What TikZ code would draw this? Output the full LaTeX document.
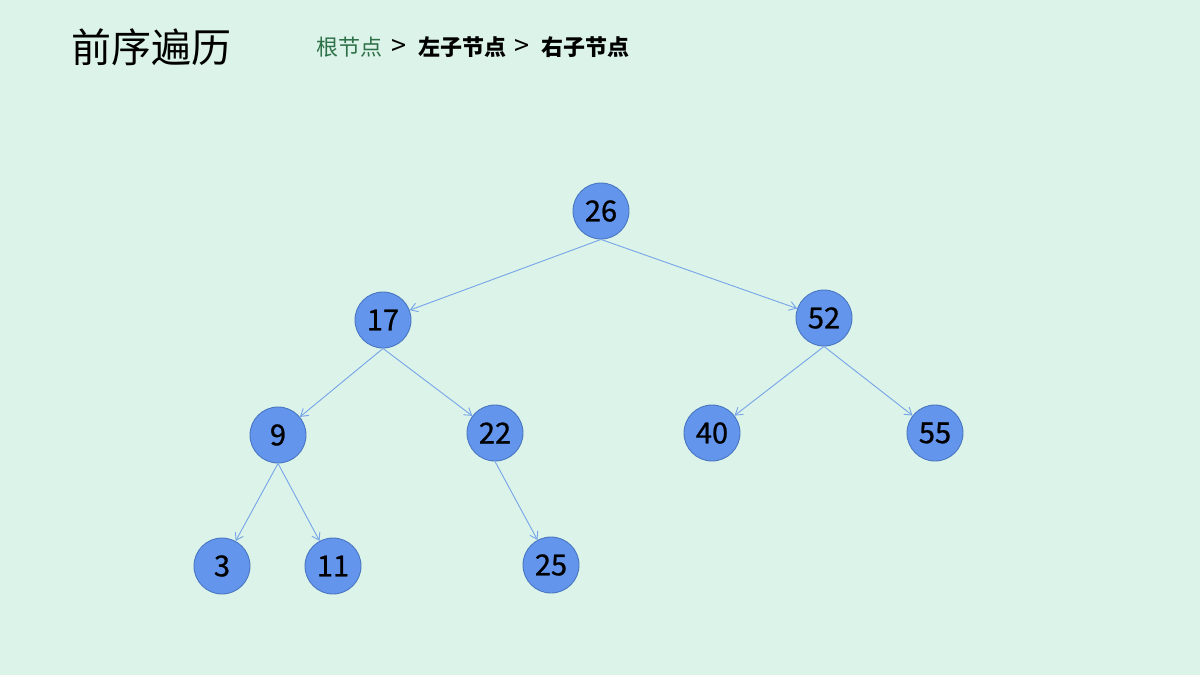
\documentclass[tikz,border=0pt]{standalone}
\usepackage{fontspec}
\setmainfont{Noto Sans CJK SC}
\newfontfamily\numfont[FakeBold=0.8]{Noto Sans CJK SC}
\usetikzlibrary{arrows.meta}
\definecolor{bg}{RGB}{220,243,233}
\definecolor{nodefill}{RGB}{100,149,237}
\definecolor{nodeedge}{RGB}{72,118,192}
\definecolor{edgecol}{RGB}{118,164,232}
\definecolor{rootgreen}{RGB}{46,112,72}
\tikzset{
  tnode/.style={circle,draw=nodeedge,fill=nodefill,line width=0.9pt,minimum size=56pt,inner sep=0pt,font=\numfont\fontsize{29}{29}\selectfont},
  tedge/.style={draw=edgecol,line width=0.9pt,-{Straight Barb[length=7pt,width=9pt]}},
  crumb/.style={anchor=west,inner sep=0pt,font=\fontsize{22}{22}\selectfont},
  crumbb/.style={crumb,font=\bfseries\fontsize{22}{22}\selectfont},
  sepmark/.style={anchor=center,inner sep=0pt,font=\fontsize{27}{27}\selectfont},
}
\begin{document}
\begin{tikzpicture}[x=1pt,y=-1pt]
\fill[bg] (0,0) rectangle (1200,675);
\useasboundingbox (0,0) rectangle (1200,675);
\node[anchor=west,inner sep=0pt,font=\fontsize{40}{40}\selectfont] (title) at (71,47) {前序遍历};
\node[crumb,text=rootgreen] (c1) at (316,47) {根节点};
\node[sepmark] (s1) at (399,47) {>};
\node[crumbb] (c2) at (418,47) {左子节点};
\node[sepmark] (s2) at (522,47) {>};
\node[crumbb] (c3) at (541,47) {右子节点};
\node[tnode] (n26) at (601,211) {26};
\node[tnode] (n17) at (383,320) {17};
\node[tnode] (n52) at (824,318) {52};
\node[tnode] (n9) at (278,435) {9};
\node[tnode] (n22) at (495,433) {22};
\node[tnode] (n40) at (712,433) {40};
\node[tnode] (n55) at (935,433) {55};
\node[tnode] (n3) at (222,566) {3};
\node[tnode] (n11) at (333,566) {11};
\node[tnode] (n25) at (551,565) {25};
\draw[tedge] (n26.south) -- (n17);
\draw[tedge] (n26.south) -- (n52);
\draw[tedge] (n17.south) -- (n9);
\draw[tedge] (n17.south) -- (n22);
\draw[tedge] (n52.south) -- (n40);
\draw[tedge] (n52.south) -- (n55);
\draw[tedge] (n9.south) -- (n3);
\draw[tedge] (n9.south) -- (n11);
\draw[tedge] (n22.south) -- (n25);
\end{tikzpicture}
\end{document}
